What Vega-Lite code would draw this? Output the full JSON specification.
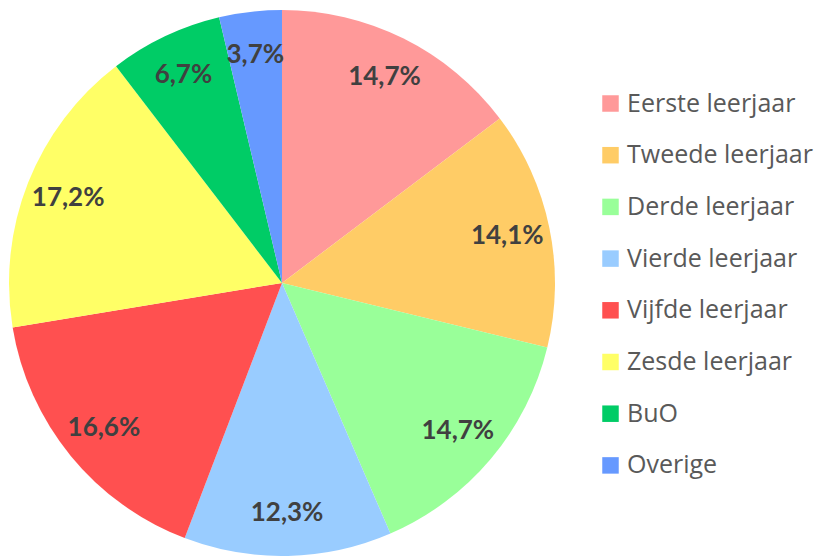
{
  "$schema": "https://vega.github.io/schema/vega-lite/v6.json",
  "width": 564,
  "height": 546,
  "autosize": "none",
  "padding": {"left": 0, "top": 10, "right": 258, "bottom": 0},
  "background": "white",
  "data": {
    "values": [
      {"cat": "Eerste leerjaar", "value": 14.7, "label": "14,7%", "ord": 1},
      {"cat": "Tweede leerjaar", "value": 14.1, "label": "14,1%", "ord": 2},
      {"cat": "Derde leerjaar", "value": 14.7, "label": "14,7%", "ord": 3},
      {"cat": "Vierde leerjaar", "value": 12.3, "label": "12,3%", "ord": 4},
      {"cat": "Vijfde leerjaar", "value": 16.6, "label": "16,6%", "ord": 5},
      {"cat": "Zesde leerjaar", "value": 17.2, "label": "17,2%", "ord": 6},
      {"cat": "BuO", "value": 6.7, "label": "6,7%", "ord": 7},
      {"cat": "Overige", "value": 3.7, "label": "3,7%", "ord": 8}
    ]
  },
  "encoding": {
    "theta": {"field": "value", "type": "quantitative", "stack": true},
    "order": {"field": "ord", "type": "quantitative"}
  },
  "layer": [
    {
      "mark": {"type": "arc", "stroke": null},
      "encoding": {
        "color": {
          "field": "cat",
          "type": "nominal",
          "scale": {
            "domain": ["Eerste leerjaar", "Tweede leerjaar", "Derde leerjaar", "Vierde leerjaar", "Vijfde leerjaar", "Zesde leerjaar", "BuO", "Overige"],
            "range": ["#FF9999", "#FFCC66", "#99FF99", "#99CCFF", "#FF5050", "#FFFF66", "#00CC66", "#6699FF"]
          },
          "legend": {
            "title": null,
            "orient": "none",
            "legendX": 598,
            "legendY": 81,
            "padding": 0,
            "symbolOffset": 0,
            "symbolType": "square",
            "symbolSize": 272,
            "symbolStrokeWidth": 0,
            "labelFontSize": 25,
            "labelFont": "Open Sans",
            "labelColor": "#595959",
            "labelOffset": 4,
            "rowPadding": 25.7,
            "labelLimit": 300
          }
        }
      }
    },
    {
      "mark": {"type": "text", "radius": 230, "font": "Lato", "fontWeight": "bold", "fontSize": 26, "fill": "#404040"},
      "encoding": {
        "text": {"field": "label", "type": "nominal"}
      }
    }
  ]
}
